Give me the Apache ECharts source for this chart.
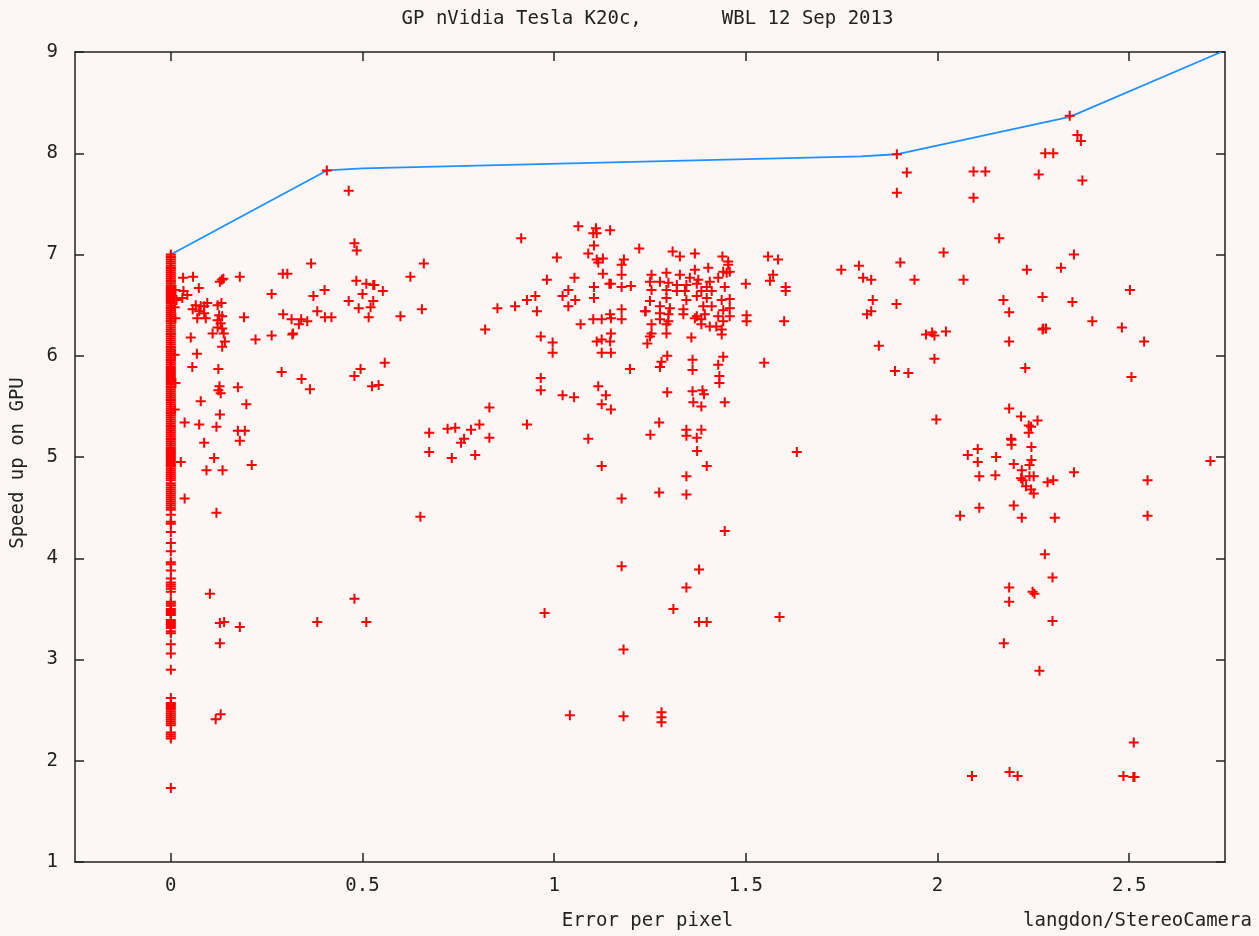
<!DOCTYPE html>
<html>
<head>
<meta charset="utf-8">
<script src="https://cdn.jsdelivr.net/npm/echarts@6/dist/echarts.min.js"></script>
<style>
html,body{margin:0;padding:0;background:#fcf7f4;}
#chart{width:1259px;height:936px;}
</style>
</head>
<body>
<div id="chart"></div>
<script>
// ---- data ----
const titleText = 'GP nVidia Tesla K20c,       WBL 12 Sep 2013';
const xAxisTitle = 'Error per pixel';
const yAxisTitle = 'Speed up on GPU';
const creditText = 'langdon/StereoCamera';

const xTicks = [0, 0.5, 1, 1.5, 2, 2.5];
const yTicks = [1, 2, 3, 4, 5, 6, 7, 8, 9];

// Pareto front (blue line)
const frontX = [0, 0.407, 0.5, 1.8, 1.893, 2.345, 2.74];
const frontY = [7.0, 7.83, 7.85, 7.97, 7.99, 8.36, 9.0];

// speeds of programs with zero error (x = 0 column, very densely packed)
const zeroErrorSpeeds = [
  7.00, 6.98, 6.97, 6.95, 6.93, 6.91, 6.89, 6.87, 6.86, 6.84, 6.82, 6.80, 6.78, 6.76,
  6.74, 6.73, 6.71, 6.69, 6.67, 6.65, 6.63, 6.61, 6.60, 6.58, 6.56, 6.54, 6.52, 6.50,
  6.48, 6.47, 6.45, 6.43, 6.41, 6.39, 6.37, 6.35, 6.34, 6.32, 6.30, 6.28, 6.26, 6.24,
  6.22, 6.21, 6.19, 6.17, 6.15, 6.13, 6.11, 6.09, 6.08, 6.06, 6.04, 6.02, 6.00, 5.98,
  5.96, 5.95, 5.93, 5.91, 5.89, 5.87, 5.85, 5.83, 5.82, 5.80, 5.78, 5.76, 5.74, 5.72,
  5.70, 5.69, 5.67, 5.65, 5.63, 5.61, 5.59, 5.57, 5.56, 5.54, 5.52, 5.50, 5.48, 5.46,
  5.44, 5.43, 5.41, 5.39, 5.37, 5.35, 5.33, 5.31, 5.30, 5.28, 5.26, 5.24, 5.22, 5.20,
  5.18, 5.17, 5.15, 5.13, 5.11, 5.09, 5.07, 5.05, 5.04, 5.02, 5.00, 4.98, 4.96, 4.94,
  4.92, 4.91, 4.89, 4.87, 4.85, 4.83, 4.81, 4.79, 4.77, 4.74, 4.72, 4.70, 4.68, 4.66,
  4.64, 4.62, 4.60, 4.58, 4.56, 4.54, 4.52, 4.50, 4.48,
  4.43, 4.36, 4.34, 4.26, 4.15, 4.07, 3.96, 3.94, 3.88, 3.80,
  3.76, 3.74, 3.72, 3.70, 3.67,
  3.57, 3.55, 3.53, 3.50, 3.48, 3.46, 3.44,
  3.39, 3.37, 3.35, 3.33, 3.31, 3.28, 3.26,
  3.15, 3.06, 2.90, 2.62,
  2.57, 2.55, 2.53, 2.51, 2.49, 2.47, 2.45, 2.43, 2.41, 2.39, 2.37, 2.35,
  2.28, 2.26, 2.24, 2.22,
  1.73
];

// low-error programs [error, speed]
const pointsLeft = [
  [0.012,6.65],[0.015,6.55],[0.010,6.48],[0.012,6.37],[0.010,6.01],[0.012,5.73],[0.010,5.47],
  [0.032,6.77],[0.058,6.78],[0.133,6.75],[0.128,6.73],[0.137,6.76],[0.18,6.78],[0.292,6.81],
  [0.304,6.81],[0.366,6.91],[0.479,7.11],[0.485,7.04],[0.464,7.63],[0.407,7.83],[0.625,6.78],
  [0.66,6.91],[0.073,6.67],[0.033,6.64],[0.030,6.57],[0.043,6.60],[0.484,6.74],[0.51,6.71],
  [0.528,6.70],[0.531,6.70],[0.553,6.64],[0.5,6.61],[0.401,6.65],[0.372,6.59],[0.263,6.61],
  [0.464,6.54],[0.528,6.54],[0.521,6.48],[0.49,6.47],[0.655,6.46],[0.599,6.39],[0.516,6.38],
  [0.382,6.44],[0.402,6.38],[0.419,6.38],[0.293,6.41],[0.315,6.36],[0.34,6.36],[0.356,6.34],
  [0.334,6.31],[0.319,6.22],[0.317,6.21],[0.263,6.20],[0.191,6.38],[0.221,6.16],
  [0.065,6.50],[0.078,6.49],[0.087,6.49],[0.095,6.52],[0.122,6.50],[0.132,6.52],[0.057,6.46],
  [0.074,6.44],[0.087,6.42],[0.126,6.40],[0.134,6.39],[0.069,6.37],[0.091,6.37],[0.122,6.35],
  [0.13,6.32],[0.122,6.28],[0.134,6.27],[0.109,6.22],[0.138,6.22],
  [0.052,6.18],[0.141,6.14],[0.134,6.09],[0.068,6.02],[0.056,5.89],[0.124,5.87],[0.289,5.84],
  [0.341,5.77],[0.363,5.67],[0.479,5.80],[0.495,5.87],[0.558,5.93],[0.525,5.70],[0.542,5.71],
  [0.127,5.70],[0.124,5.66],[0.13,5.63],[0.175,5.69],[0.078,5.55],[0.197,5.52],[0.128,5.42],
  [0.036,5.34],[0.074,5.32],[0.119,5.30],[0.175,5.26],[0.193,5.26],[0.18,5.16],[0.087,5.14],
  [0.113,4.99],[0.026,4.95],[0.093,4.87],[0.135,4.87],[0.211,4.92],[0.036,4.59],[0.119,4.45],
  [0.674,5.24],[0.674,5.05],[0.651,4.41],[0.102,3.65],[0.479,3.60],[0.128,3.36],[0.139,3.37],
  [0.18,3.32],[0.382,3.37],[0.51,3.37],[0.128,3.16],[0.117,2.41],[0.13,2.46]
];

// medium-error programs [error, speed]
const pointsMiddle = [
  [0.914,7.16],[0.82,6.26],[0.852,6.47],[0.898,6.49],[0.929,6.55],[0.951,6.59],[0.955,6.44],
  [0.981,6.75],[1.007,6.97],[1.063,7.28],[1.109,7.26],[1.102,7.21],[1.111,7.21],[1.146,7.24],
  [1.104,7.09],[1.089,7.01],[1.111,6.95],[1.127,6.96],[1.115,6.92],[1.222,7.06],[1.182,6.95],
  [1.176,6.90],[1.176,6.80],[1.053,6.77],[1.037,6.65],[1.022,6.59],[1.055,6.55],[1.037,6.49],
  [1.104,6.68],[1.104,6.57],[1.127,6.81],[1.148,6.71],[1.176,6.68],[1.2,6.69],[1.069,6.31],
  [1.102,6.36],[1.124,6.36],[1.148,6.37],[1.176,6.46],[1.176,6.36],[1.239,6.44],[1.148,6.22],
  [1.111,6.14],[1.124,6.16],[1.146,6.14],[1.124,6.03],[1.148,6.03],[0.965,6.19],[0.996,6.13],
  [0.996,6.03],[1.198,5.87],[0.965,5.78],[0.965,5.66],[1.022,5.61],[1.052,5.59],[1.115,5.70],
  [1.135,5.61],[1.124,5.52],[1.148,5.47],[0.831,5.49],[0.722,5.28],[0.742,5.29],[0.783,5.27],
  [0.805,5.32],[0.765,5.18],[0.757,5.14],[0.831,5.19],[0.733,4.99],[0.794,5.02],[0.929,5.32],
  [1.089,5.18],[1.124,4.91],[1.176,4.59],[1.144,6.71],[1.146,6.41],
  [1.309,7.03],[1.328,6.98],[1.367,7.01],[1.439,6.98],[1.454,6.93],[1.454,6.90],[1.441,6.83],
  [1.402,6.87],[1.367,6.85],
  [1.254,6.80],[1.293,6.82],[1.328,6.80],[1.354,6.77],[1.376,6.75],[1.406,6.73],[1.428,6.77],
  [1.45,6.82],[1.458,6.83],
  [1.25,6.73],[1.276,6.73],[1.298,6.72],[1.32,6.70],[1.345,6.70],[1.372,6.71],[1.398,6.68],
  [1.445,6.68],
  [1.254,6.65],[1.293,6.65],[1.32,6.64],[1.341,6.64],[1.384,6.64],[1.411,6.64],
  [1.293,6.57],[1.345,6.55],[1.372,6.59],[1.398,6.57],[1.437,6.55],[1.458,6.56],
  [1.25,6.54],[1.276,6.49],[1.302,6.47],[1.337,6.46],[1.389,6.49],[1.411,6.49],[1.441,6.45],
  [1.458,6.47],
  [1.237,6.44],[1.276,6.42],[1.298,6.41],[1.337,6.41],[1.372,6.39],[1.393,6.41],[1.428,6.39],
  [1.458,6.39],
  [1.276,6.36],[1.298,6.34],[1.367,6.37],[1.384,6.36],[1.441,6.34],
  [1.254,6.31],[1.293,6.31],[1.384,6.31],[1.406,6.29],[1.423,6.29],[1.437,6.26],
  [1.254,6.22],[1.293,6.22],[1.25,6.19],[1.358,6.18],[1.437,6.21],[1.243,6.12],
  [1.5,6.71],[1.502,6.40],[1.502,6.34],[1.558,6.98],[1.584,6.95],[1.571,6.80],[1.563,6.74],
  [1.604,6.68],[1.604,6.64],[1.6,6.34],[1.548,5.93],
  [1.295,6.00],[1.28,5.94],[1.276,5.89],[1.361,5.96],[1.361,5.86],[1.441,5.99],[1.428,5.91],
  [1.431,5.80],[1.431,5.73],[1.295,5.64],[1.361,5.65],[1.387,5.66],[1.391,5.62],[1.363,5.54],
  [1.384,5.50],[1.445,5.54],[1.274,5.34],
  [1.251,5.22],[1.345,5.27],[1.345,5.21],[1.384,5.27],[1.372,5.19],[1.373,5.06],[1.398,4.91],
  [1.345,4.81],[1.274,4.65],[1.345,4.63],[1.633,5.05],
  [1.445,4.27],[1.176,3.92],[1.378,3.89],[1.345,3.71],[1.311,3.50],[1.378,3.37],[1.398,3.37],
  [1.588,3.42],[0.975,3.46],[1.181,3.10],[1.041,2.45],[1.181,2.44],[1.28,2.48],[1.28,2.43],
  [1.28,2.38]
];

// high-error programs [error, speed]
const pointsRight = [
  [1.894,7.99],[1.92,7.81],[1.894,7.61],[2.094,7.82],[2.125,7.82],[2.094,7.56],[2.281,8.00],
  [2.302,8.00],[2.264,7.79],[2.345,8.37],[2.365,8.18],[2.374,8.12],[2.378,7.73],[2.161,7.16],
  [2.016,7.02],[2.356,7.00],[1.749,6.85],[1.795,6.89],[1.806,6.77],[1.827,6.75],[1.903,6.92],
  [1.94,6.75],[2.068,6.75],[2.233,6.85],[2.322,6.87],[2.502,6.65],[1.831,6.55],[1.893,6.51],
  [2.172,6.55],[2.274,6.58],[2.352,6.53],[1.816,6.41],[1.827,6.44],[2.187,6.43],[2.404,6.34],
  [2.481,6.28],[2.276,6.27],[2.283,6.27],[2.274,6.26],[2.539,6.14],[1.97,6.21],[1.986,6.23],
  [1.992,6.20],[2.022,6.24],[1.847,6.10],[2.187,6.14],[1.992,5.97],[2.229,5.88],[1.889,5.85],
  [1.924,5.83],[2.506,5.79],[2.187,5.48],[2.218,5.40],[2.261,5.36],[2.238,5.31],[2.244,5.30],
  [2.238,5.24],[2.192,5.18],[1.997,5.37],[2.193,5.17],[2.193,5.12],[2.245,5.10],[2.105,5.08],
  [2.079,5.02],[2.105,4.95],[2.153,5.00],[2.199,4.93],[2.245,4.97],[2.24,4.92],[2.22,4.87],
  [2.222,4.77],[2.218,4.79],[2.231,4.71],[2.244,4.68],[2.251,4.64],[2.251,4.81],[2.24,4.81],
  [2.109,4.81],[2.151,4.82],[2.287,4.75],[2.302,4.77],[2.356,4.85],[2.548,4.77],[2.712,4.96],
  [2.109,4.50],[2.059,4.42],[2.199,4.52],[2.22,4.40],[2.306,4.40],[2.548,4.42],[2.28,4.04],
  [2.3,3.81],[2.187,3.71],[2.187,3.57],[2.248,3.67],[2.253,3.65],[2.3,3.38],[2.173,3.16],
  [2.266,2.89],[2.09,1.85],[2.188,1.89],[2.209,1.85],[2.485,1.85],[2.511,1.84],[2.514,1.84],
  [2.512,2.18]
];

// ---- chart ----
const FONT = 'DejaVu Sans Mono';
const TXT = '#222222';
const plusPath = 'path://M4,0h2v4h4v2h-4v4h-2v-4h-4v-2h4z';

const scatterData = []
  .concat(zeroErrorSpeeds.map(v => [0, v]))
  .concat(pointsLeft, pointsMiddle, pointsRight);
const frontData = frontX.map((x, i) => [x, frontY[i]]);

const axisLineStyle = { color: '#222222', width: 1.5 };

const chart = echarts.init(document.getElementById('chart'), null, { renderer: 'canvas' });
chart.setOption({
  animation: false,
  backgroundColor: '#fcf7f4',
  grid: { left: 75, right: 34, top: 52, bottom: 74, containLabel: false },
  xAxis: [
    {
      type: 'value', position: 'bottom', min: -0.25, max: 2.75,
      axisLine: { show: true, onZero: false, lineStyle: axisLineStyle },
      axisTick: { show: true, inside: true, length: 9, customValues: xTicks, lineStyle: axisLineStyle },
      axisLabel: {
        show: true, customValues: xTicks, margin: 15,
        formatter: v => String(v),
        color: TXT, fontFamily: FONT, fontSize: 19
      },
      splitLine: { show: false }
    },
    {
      type: 'value', position: 'top', min: -0.25, max: 2.75,
      axisLine: { show: true, onZero: false, lineStyle: axisLineStyle },
      axisTick: { show: true, inside: true, length: 9, customValues: xTicks, lineStyle: axisLineStyle },
      axisLabel: { show: false },
      splitLine: { show: false }
    }
  ],
  yAxis: [
    {
      type: 'value', position: 'left', min: 1, max: 9, interval: 1,
      axisLine: { show: true, onZero: false, lineStyle: axisLineStyle },
      axisTick: { show: true, inside: true, length: 9, customValues: yTicks, lineStyle: axisLineStyle },
      axisLabel: {
        show: true, customValues: yTicks, margin: 17,
        formatter: v => String(v),
        color: TXT, fontFamily: FONT, fontSize: 19
      },
      splitLine: { show: false }
    },
    {
      type: 'value', position: 'right', min: 1, max: 9, interval: 1,
      axisLine: { show: true, onZero: false, lineStyle: axisLineStyle },
      axisTick: { show: true, inside: true, length: 9, customValues: yTicks, lineStyle: axisLineStyle },
      axisLabel: { show: false },
      splitLine: { show: false }
    }
  ],
  series: [
    {
      type: 'line', xAxisIndex: 0, yAxisIndex: 0,
      data: frontData, showSymbol: false, symbol: 'none',
      lineStyle: { color: '#1e90ff', width: 1.8 },
      z: 2, silent: true
    },
    {
      type: 'scatter', xAxisIndex: 0, yAxisIndex: 0,
      data: scatterData,
      symbol: plusPath, symbolSize: 10,
      itemStyle: { color: '#ff0000', opacity: 1 },
      z: 3, silent: true, large: false
    }
  ],
  graphic: [
    {
      type: 'text', x: 647.5, y: 19,
      style: { text: titleText, font: '19px "' + FONT + '"', fill: TXT, textAlign: 'center', textVerticalAlign: 'middle' }
    },
    {
      type: 'text', x: 647.5, y: 921,
      style: { text: xAxisTitle, font: '19px "' + FONT + '"', fill: TXT, textAlign: 'center', textVerticalAlign: 'middle' }
    },
    {
      type: 'text', x: 1137.5, y: 921,
      style: { text: creditText, font: '19px "' + FONT + '"', fill: TXT, textAlign: 'center', textVerticalAlign: 'middle' }
    },
    {
      type: 'text', x: 18, y: 463, rotation: Math.PI / 2,
      style: { text: yAxisTitle, font: '19px "' + FONT + '"', fill: TXT, textAlign: 'center', textVerticalAlign: 'middle' }
    }
  ]
});
</script>
</body>
</html>
